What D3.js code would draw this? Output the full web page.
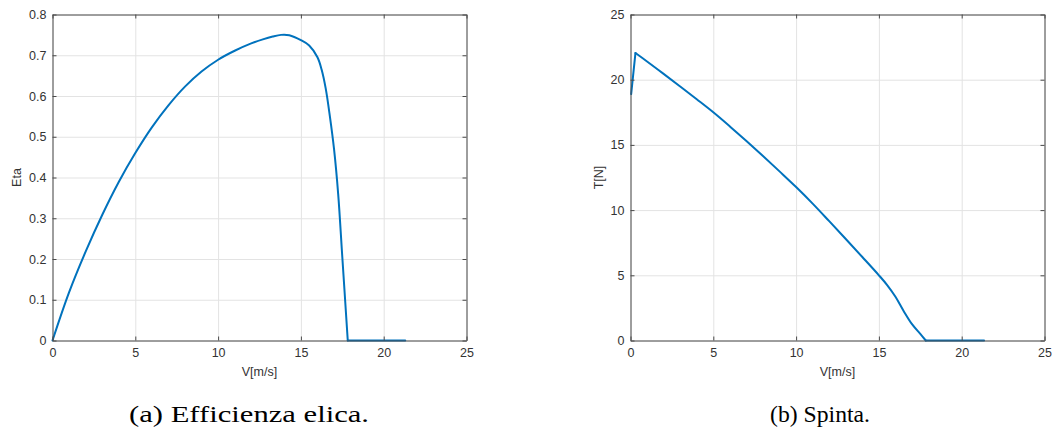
<!DOCTYPE html>
<html>
<head>
<meta charset="utf-8">
<script src="https://cdn.jsdelivr.net/npm/d3@7"></script>
<style>
  body { margin: 0; background: #fff; }
</style>
</head>
<body>
<div id="chart"></div>
<script>
// efficienza elica (a)
var etaV = [0, 1, 2, 3, 4, 5, 6, 7, 8, 9, 10, 11, 12, 12.7, 13.3, 13.8, 14.3, 15, 15.5, 16, 16.25, 16.5, 16.75, 17, 17.25, 17.5, 17.83, 21.3]
var etaVal = [0, 0.118, 0.218, 0.308, 0.389, 0.46, 0.523, 0.577, 0.623, 0.66, 0.689, 0.711, 0.729, 0.739, 0.746, 0.75, 0.749, 0.737, 0.724, 0.695, 0.665, 0.618, 0.55, 0.47, 0.36, 0.205, 0, 0]
var etaCorners = [26]

// spinta (b)
var thrustV = [0.04, 0.3, 1, 2, 3, 4, 5, 6, 7, 8, 9, 10, 11, 12, 13, 14, 15, 15.5, 16, 16.5, 17, 17.5, 17.83, 21.35]
var thrustVal = [18.9, 22.05, 21.4, 20.45, 19.48, 18.5, 17.5, 16.42, 15.3, 14.15, 12.97, 11.77, 10.5, 9.15, 7.78, 6.4, 5.0, 4.25, 3.35, 2.25, 1.25, 0.5, 0, 0]
var thrustCorners = [1, 22]

var xTicks = [0, 5, 10, 15, 20, 25]
var etaTicks = [0, 0.1, 0.2, 0.3, 0.4, 0.5, 0.6, 0.7, 0.8]
var thrustTicks = [0, 5, 10, 15, 20, 25]

var sansFont = "Arial, 'Liberation Sans', sans-serif"
var serifFont = "'Times New Roman', 'Liberation Serif', Times, serif"

var svg = d3.select("#chart").append("svg")
    .attr("width", 1053)
    .attr("height", 432)

drawPanel({
    left: 52.5, right: 466.5, top: 14.5, bottom: 340.5,
    xs: etaV, ys: etaVal, corners: etaCorners,
    yMax: 0.8, yTicks: etaTicks, yLabel: "Eta", yLabelX: 17,
    yFormat: function (d) { return d === 0 ? "0" : d3.format(".1f")(d) },
    caption: "(a) Efficienza elica.", captionX: 249, captionW: 240
})

drawPanel({
    left: 630.5, right: 1044.5, top: 14.5, bottom: 340.5,
    xs: thrustV, ys: thrustVal, corners: thrustCorners,
    yMax: 25, yTicks: thrustTicks, yLabel: "T[N]", yLabelX: 599,
    yFormat: d3.format("d"),
    caption: "(b) Spinta.", captionX: 820, captionW: 100
})

function drawPanel(p) {
    var x = d3.scaleLinear().domain([0, 25]).range([p.left, p.right])
    var y = d3.scaleLinear().domain([0, p.yMax]).range([p.bottom, p.top])
    var w = p.right - p.left
    var h = p.bottom - p.top
    var g = svg.append("g")

    // grid
    g.append("g")
        .attr("transform", "translate(0," + p.bottom + ")")
        .call(d3.axisBottom(x).tickValues(xTicks).tickSize(-h).tickFormat(""))
        .call(function (a) { a.select(".domain").remove() })
        .selectAll("line").attr("stroke", "#e3e3e3")
    g.append("g")
        .attr("transform", "translate(" + p.left + ",0)")
        .call(d3.axisLeft(y).tickValues(p.yTicks).tickSize(-w).tickFormat(""))
        .call(function (a) { a.select(".domain").remove() })
        .selectAll("line").attr("stroke", "#e3e3e3")

    // curve, split at the sharp corners
    var pts = p.xs.map(function (v, i) { return [v, p.ys[i]] })
    var cuts = [0].concat(p.corners, [pts.length - 1])
    var line = d3.line()
        .x(function (d) { return x(d[0]) })
        .y(function (d) { return y(d[1]) })
        .curve(d3.curveCatmullRom.alpha(0.5))
    for (var k = 0; k < cuts.length - 1; k++) {
        g.append("path")
            .datum(pts.slice(cuts[k], cuts[k + 1] + 1))
            .attr("d", line)
            .attr("fill", "none")
            .attr("stroke", "#0072BD")
            .attr("stroke-width", 2)
            .attr("stroke-linejoin", "round")
            .attr("stroke-linecap", "round")
    }

    // axes with inward ticks on all four sides
    var bottom = g.append("g")
        .attr("transform", "translate(0," + p.bottom + ")")
        .call(d3.axisBottom(x).tickValues(xTicks).tickSizeInner(-4).tickSizeOuter(0).tickPadding(8))
    var top = g.append("g")
        .attr("transform", "translate(0," + p.top + ")")
        .call(d3.axisTop(x).tickValues(xTicks).tickSizeInner(-4).tickSizeOuter(0).tickFormat(""))
    var leftAx = g.append("g")
        .attr("transform", "translate(" + p.left + ",0)")
        .call(d3.axisLeft(y).tickValues(p.yTicks).tickSizeInner(-4).tickSizeOuter(0).tickPadding(6).tickFormat(p.yFormat))
    var rightAx = g.append("g")
        .attr("transform", "translate(" + p.right + ",0)")
        .call(d3.axisRight(y).tickValues(p.yTicks).tickSizeInner(-4).tickSizeOuter(0).tickFormat(""))

    ;[bottom, top, leftAx, rightAx].forEach(function (a) {
        a.attr("font-family", sansFont).attr("font-size", 12.5)
        a.selectAll("path, line").attr("stroke", "#4a4a4a")
        a.selectAll("text").attr("fill", "#333")
    })

    // axis labels
    g.append("text")
        .attr("x", (p.left + p.right) / 2)
        .attr("y", 376)
        .attr("text-anchor", "middle")
        .attr("fill", "#333")
        .style("font-family", sansFont)
        .style("font-size", "12.5px")
        .text("V[m/s]")
    g.append("text")
        .attr("transform", "translate(" + p.yLabelX + "," + (p.top + p.bottom) / 2 + ") rotate(-90)")
        .attr("dy", "0.35em")
        .attr("text-anchor", "middle")
        .attr("fill", "#333")
        .style("font-family", sansFont)
        .style("font-size", "12.5px")
        .text(p.yLabel)

    // caption
    g.append("text")
        .attr("x", p.captionX)
        .attr("y", 422)
        .attr("text-anchor", "middle")
        .attr("fill", "#000")
        .style("font-family", serifFont)
        .style("font-size", "23px")
        .attr("textLength", p.captionW)
        .attr("lengthAdjust", "spacingAndGlyphs")
        .text(p.caption)
}
</script>
</body>
</html>
